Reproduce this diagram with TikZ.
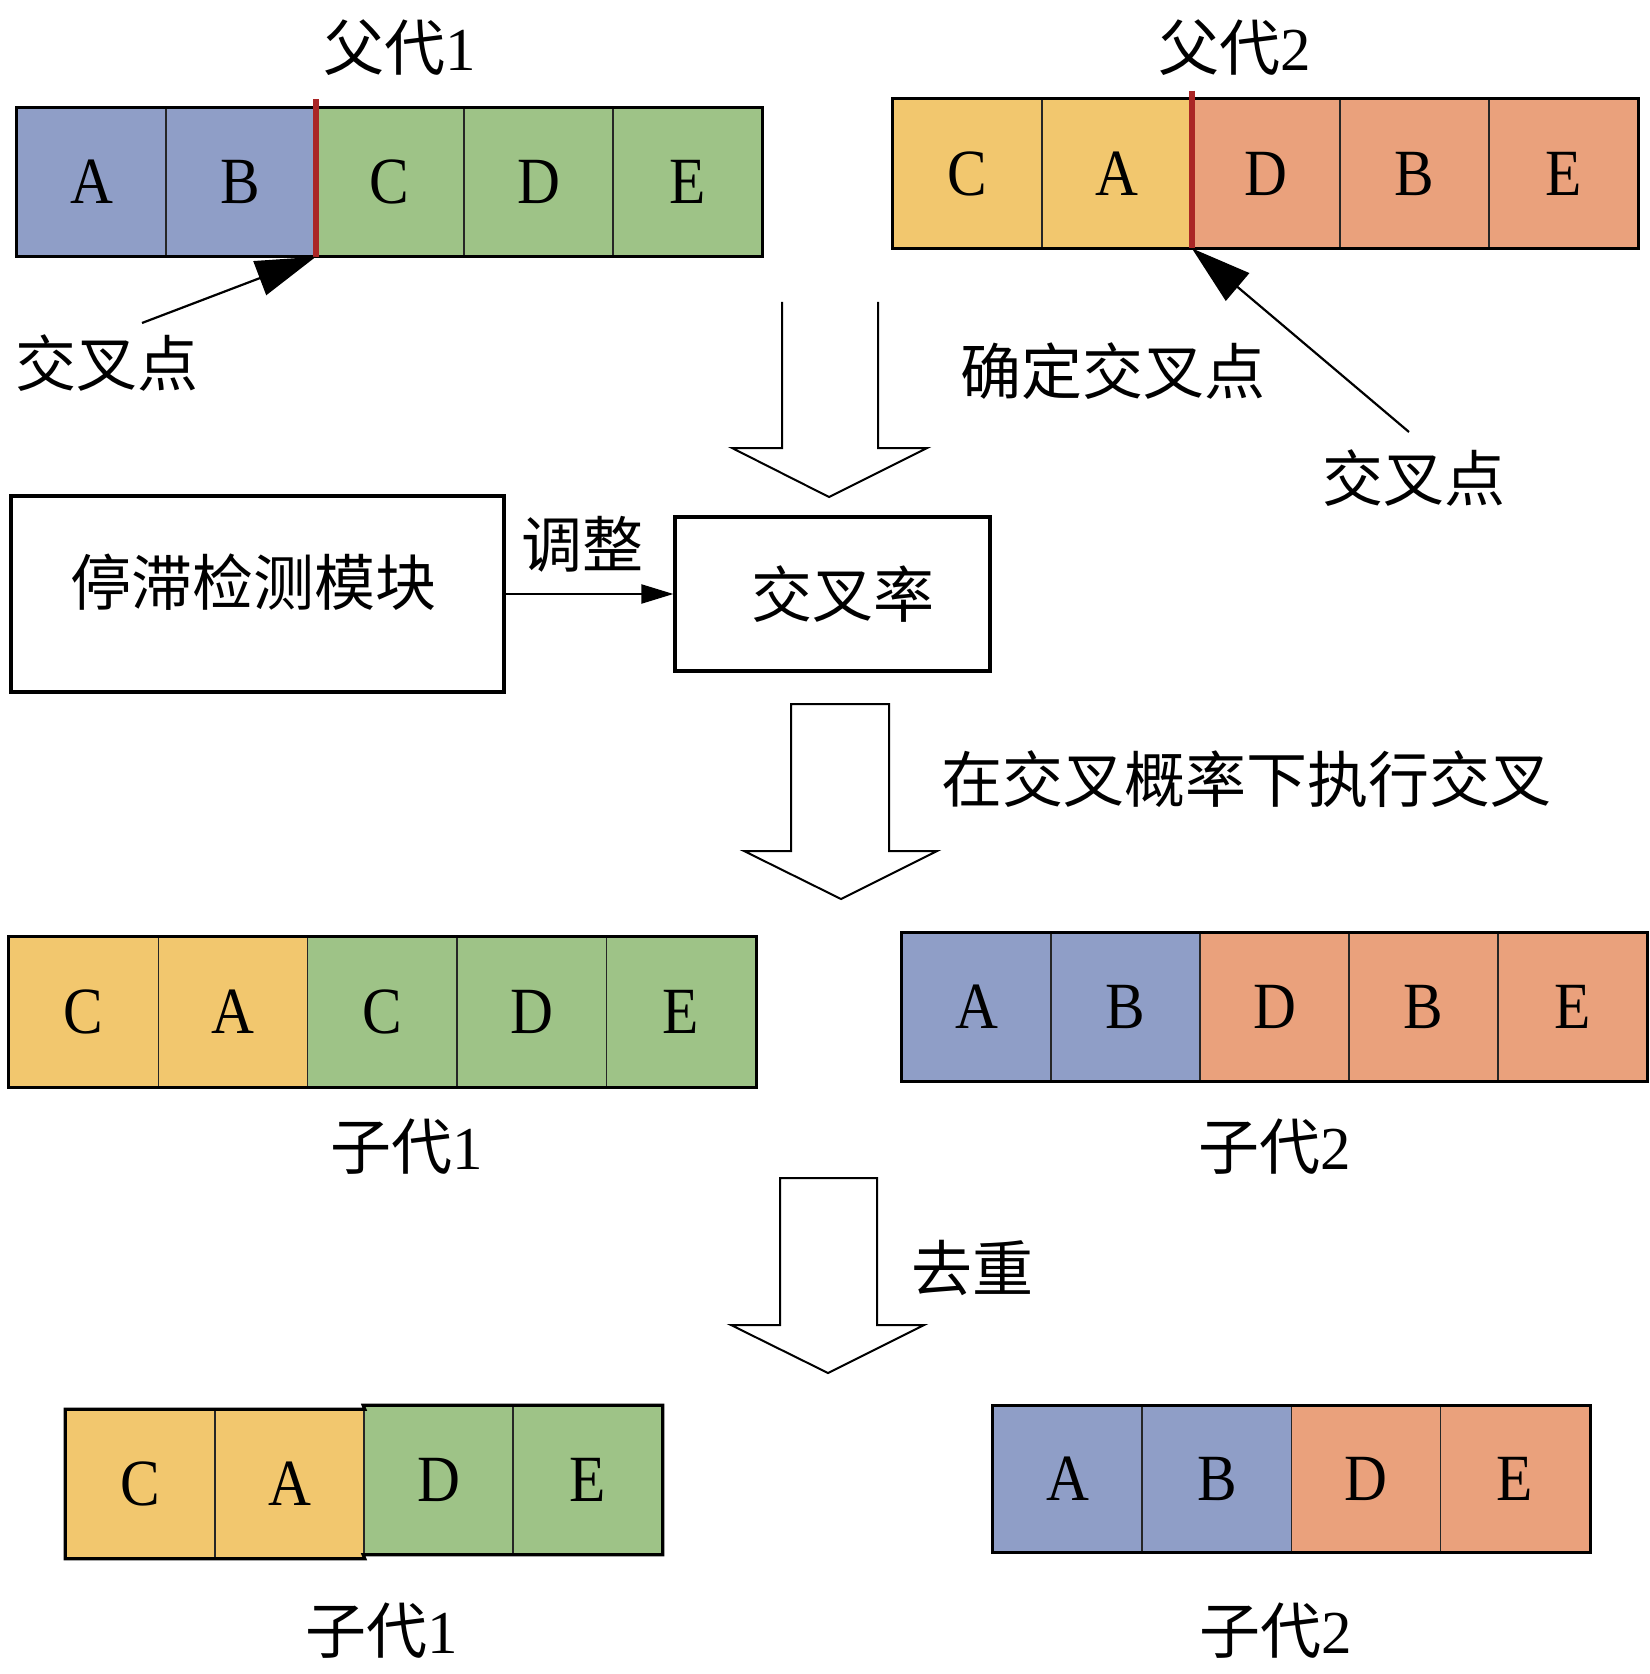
\documentclass[tikz,border=0pt]{standalone}
\usepackage{fontspec}
\setmainfont{Liberation Serif}
\newfontfamily\cjk{Noto Sans CJK SC}
\newfontfamily\cellfont{Liberation Serif}[FakeStretch=0.9]
\usetikzlibrary{arrows.meta}
\definecolor{cblue}{RGB}{143,158,199}
\definecolor{cgreen}{RGB}{158,195,135}
\definecolor{cyellow}{RGB}{242,199,110}
\definecolor{csalmon}{RGB}{234,161,124}
\definecolor{cred}{RGB}{170,38,38}
\begin{document}
\begin{tikzpicture}[x=0.5pt,y=-0.5pt,
  cell/.style={draw=black!85, line width=0.8pt, inner sep=0pt,
    minimum width=74.5pt, minimum height=74pt,
    font=\cellfont\fontsize{33}{33}\selectfont},
  rowframe/.style={draw=black, line width=1.6pt},
  xline/.style={draw=cred, line width=3pt},
  lab/.style={inner sep=0pt, font=\fontsize{30.5}{36}\selectfont\cjk},
  boxnode/.style={draw=black, line width=1.6pt, inner sep=0pt,
    font=\fontsize{30.5}{36}\selectfont\cjk},
  ptr/.style={draw=black, line width=1.1pt, -{Triangle[length=30pt,width=18pt]}},
  smallptr/.style={draw=black, line width=1.1pt, -{Triangle[length=16pt,width=9.5pt]}},
  bigarrow/.style={draw=black, line width=1pt, fill=white, line join=miter}
]
\useasboundingbox (0,0) rectangle (1649,1674);

% ---------------- Parent 1 ----------------
\node[lab] (t1) at (400,48) {父代{\rmfamily 1}};
\node[cell, fill=cblue]  (p1a) at (91.5,182)  {A};
\node[cell, fill=cblue]  (p1b) at (240.5,182) {B};
\node[cell, fill=cgreen] (p1c) at (389.5,182) {C};
\node[cell, fill=cgreen] (p1d) at (538.5,182) {D};
\node[cell, fill=cgreen] (p1e) at (687.5,182) {E};
\draw[rowframe] (p1a.north west) rectangle (p1e.south east);
\draw[xline, shorten <=-4pt] (p1b.north east) -- (p1b.south east);

% ---------------- Parent 2 ----------------
\node[lab] (t2) at (1235,48) {父代{\rmfamily 2}};
\node[cell, fill=cyellow] (p2a) at (967.5,173.5)  {C};
\node[cell, fill=cyellow] (p2b) at (1116.5,173.5) {A};
\node[cell, fill=csalmon] (p2c) at (1265.5,173.5) {D};
\node[cell, fill=csalmon] (p2d) at (1414.5,173.5) {B};
\node[cell, fill=csalmon] (p2e) at (1563.5,173.5) {E};
\draw[rowframe] (p2a.north west) rectangle (p2e.south east);
\draw[xline, shorten <=-4pt] (p2b.north east) -- (p2b.south east);

% crossover pointers
\node[lab] (cp1) at (107,363) {交叉点};
\coordinate (cp1tail) at (142,323);
\draw[ptr] (cp1tail) -- (p1b.south east);
\node[lab] (cp2) at (1414,478) {交叉点};
\coordinate (cp2tail) at (1409,432);
\draw[ptr] (cp2tail) -- (p2b.south east);

\node[lab] (det) at (1113,371) {确定交叉点};

% block arrow 1 (open top)
\draw[bigarrow, fill=none] (782,302) -- (782,448) -- (732,448) -- (829,497)
  -- (927,448) -- (878,448) -- (878,302);

% ---------------- Boxes ----------------
\node[boxnode, minimum width=246.5pt, minimum height=98pt] (stag) at (257.5,594) {};
\node[lab] (stagtext) at (253,582) {停滞检测模块};
\node[boxnode, minimum width=157.5pt, minimum height=77pt] (rate) at (832.5,594) {\hspace{10pt}交叉率};
\draw[smallptr] (stag.east) -- (rate.west);
\node[lab] (adj) at (582,544) {调整};

% block arrow 2
\draw[bigarrow] (791,704) -- (791,851) -- (744,851) -- (841,899)
  -- (937,851) -- (889,851) -- (889,704) -- cycle;
\node[lab] (exec) at (1246,779) {在交叉概率下执行交叉};

% ---------------- Offspring ----------------
\begin{scope}[cell/.append style={minimum width=74.7pt, minimum height=75pt}]
\node[cell, fill=cyellow] (o1a) at (83.7,1012) {C};
\node[cell, fill=cyellow] (o1b) at (233,1012)  {A};
\node[cell, fill=cgreen]  (o1c) at (382,1012)  {C};
\node[cell, fill=cgreen]  (o1d) at (532,1012)  {D};
\node[cell, fill=cgreen]  (o1e) at (681,1012)  {E};
\end{scope}
\draw[rowframe] (o1a.north west) rectangle (o1e.south east);
\node[lab] (t3) at (407,1147) {子代{\rmfamily 1}};

\node[cell, fill=cblue]   (o2a) at (976.5,1007)  {A};
\node[cell, fill=cblue]   (o2b) at (1125.5,1007) {B};
\node[cell, fill=csalmon] (o2c) at (1274.5,1007) {D};
\node[cell, fill=csalmon] (o2d) at (1423.5,1007) {B};
\node[cell, fill=csalmon] (o2e) at (1572.5,1007) {E};
\draw[rowframe] (o2a.north west) rectangle (o2e.south east);
\node[lab] (t4) at (1275,1147) {子代{\rmfamily 2}};

% block arrow 3
\draw[bigarrow] (780,1178) -- (780,1325) -- (731,1325) -- (828,1373)
  -- (924,1325) -- (877,1325) -- (877,1178) -- cycle;
\node[lab] (dedup) at (972,1268) {去重};

% ---------------- Final offspring ----------------
\node[cell, fill=cyellow] (f1a) at (140.5,1484) {C};
\node[cell, fill=cyellow] (f1b) at (289.5,1484) {A};
\node[cell, fill=cgreen]  (f1c) at (438.5,1480) {D};
\node[cell, fill=cgreen]  (f1d) at (587.5,1480) {E};
\draw[rowframe] (f1a.north west) -- (f1b.north east) -- (f1c.north west)
  -- (f1d.north east) -- (f1d.south east) -- (f1c.south west) -- (f1b.south east)
  -- (f1a.south west) -- cycle;
\node[lab] (t5) at (382,1631) {子代{\rmfamily 1}};

\begin{scope}[cell/.append style={minimum height=73pt}]
\node[cell, fill=cblue]   (f2a) at (1067.6,1479) {A};
\node[cell, fill=cblue]   (f2b) at (1216.9,1479) {B};
\node[cell, fill=csalmon] (f2c) at (1366,1479)   {D};
\node[cell, fill=csalmon] (f2d) at (1515,1479)   {E};
\end{scope}
\draw[rowframe] (f2a.north west) rectangle (f2d.south east);
\node[lab] (t6) at (1276,1631) {子代{\rmfamily 2}};
\end{tikzpicture}
\end{document}
